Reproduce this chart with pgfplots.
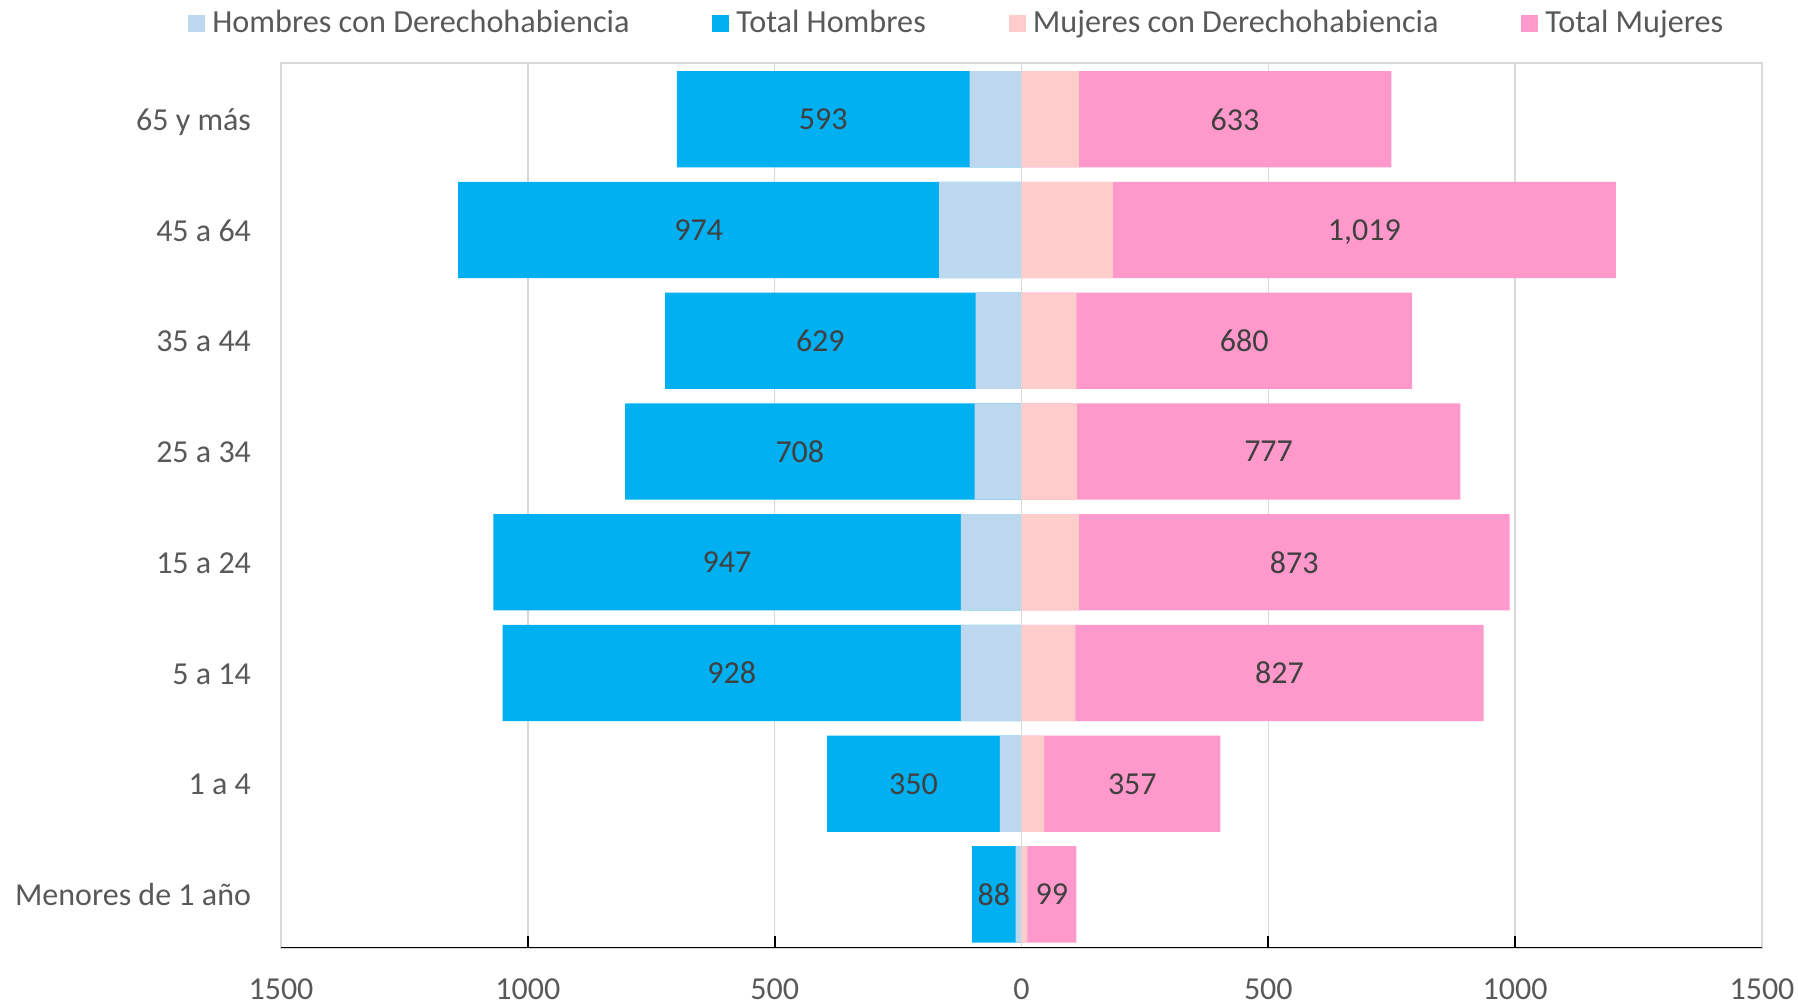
\documentclass[border=0pt]{standalone}
\usepackage{fontspec}
\setmainfont{Carlito}
\usepackage{pgfplots}
\usepackage{pgfplotstable}
\pgfplotsset{compat=1.18}
\definecolor{hder}{HTML}{BDD7EE}
\definecolor{htot}{HTML}{00B0F0}
\definecolor{mder}{HTML}{FFCCCC}
\definecolor{mtot}{HTML}{FF99CC}
\definecolor{txt}{HTML}{595959}
\definecolor{lab}{HTML}{404040}
\definecolor{gridc}{HTML}{D9D9D9}
\pgfplotstableread{
y hder htot mder mtot
7 105 593 116 633
6 167 974 185 1019
5 93 629 111 680
4 95 708 112 777
3 123 947 116 873
2 123 928 109 827
1 44 350 46 357
0 12 88 12 99
}\datatable
\begin{document}
\begin{tikzpicture}
\path[use as bounding box] (0,0) rectangle (899pt,502.5pt);
\begin{axis}[
  at={(140.5pt,28.5pt)}, anchor=south west,
  scale only axis, width=740.5pt, height=442.5pt,
  xmin=-1500, xmax=1500, ymin=-0.484, ymax=7.509,
  xtick={-1500,-1000,-500,500,1000,1500},
  xticklabels={1500,1000,500,500,1000,1500},
  extra x ticks={0}, extra x tick labels={0},
  extra x tick style={major tick length=0pt, grid=none},
  ytick={0,...,7},
  yticklabels={Menores de 1 año,1 a 4,5 a 14,15 a 24,25 a 34,35 a 44,45 a 64,65 y más},
  xmajorgrids, major grid style={gridc, line width=0.8pt},
  axis line style={gridc, line width=0.8pt},
  xtick pos=left,
  xtick style={black, line width=1pt},
  major tick length=6pt,
  ytick style={draw=none},
  tick label style={font=\fontsize{16}{19}\selectfont, text=txt},
  /pgf/number format/assume math mode=true,
  xticklabel style={yshift=-12pt},
  yticklabel style={xshift=-11.5pt, yshift=-2.3pt, text height=0.66em, text depth=0pt},
  legend columns=4,
  legend style={draw=none, fill=none, at={(-0.0628,1.045)}, anchor=west,
    font=\fontsize{16.1}{19}\selectfont, text=txt, inner sep=0pt,
    /tikz/every even column/.append style={column sep=39.5pt}},
  legend image code/.code={\fill[#1] (0pt,-4.25pt) rectangle (8.5pt,4.25pt); \path (0pt,0pt) -- (10pt,0pt);},
]
\addlegendimage{fill=hder, draw=none}
\addlegendentry{Hombres con Derechohabiencia}
\addlegendimage{fill=htot, draw=none}
\addlegendentry{Total Hombres}
\addlegendimage{fill=mder, draw=none}
\addlegendentry{Mujeres con Derechohabiencia}
\addlegendimage{fill=mtot, draw=none}
\addlegendentry{Total Mujeres}

\addplot[xbar, bar width=0.87, bar shift=0pt, fill=htot, draw=none, forget plot]
  table[x expr={-(\thisrow{hder}+\thisrow{htot})}, y=y] {\datatable};
\addplot[xbar, bar width=0.87, bar shift=0pt, fill=hder, draw=none, forget plot]
  table[x expr={-\thisrow{hder}}, y=y] {\datatable};
\addplot[xbar, bar width=0.87, bar shift=0pt, fill=mtot, draw=none, forget plot]
  table[x expr={\thisrow{mder}+\thisrow{mtot}}, y=y] {\datatable};
\addplot[xbar, bar width=0.87, bar shift=0pt, fill=mder, draw=none, forget plot]
  table[x expr={\thisrow{mder}}, y=y] {\datatable};

\addplot[draw=none, mark=none, forget plot, nodes near coords, point meta=\thisrow{htot},
  every node near coord/.append style={anchor=center, text=lab, text depth=0pt, font=\fontsize{16}{19}\selectfont}]
  table[x expr={-(\thisrow{hder}+0.5*\thisrow{htot})}, y=y] {\datatable};
\addplot[draw=none, mark=none, forget plot, nodes near coords, point meta=\thisrow{mtot},
  every node near coord/.append style={anchor=center, text=lab, text depth=0pt, font=\fontsize{16}{19}\selectfont}]
  table[x expr={\thisrow{mder}+0.5*\thisrow{mtot}}, y=y] {\datatable};

\draw[gridc, line width=0.8pt] (axis cs:0,-0.484) -- (axis cs:0,7.509);
\draw[black, line width=1.4pt] (rel axis cs:0,0) -- (rel axis cs:1,0);
\end{axis}
\end{tikzpicture}
\end{document}
